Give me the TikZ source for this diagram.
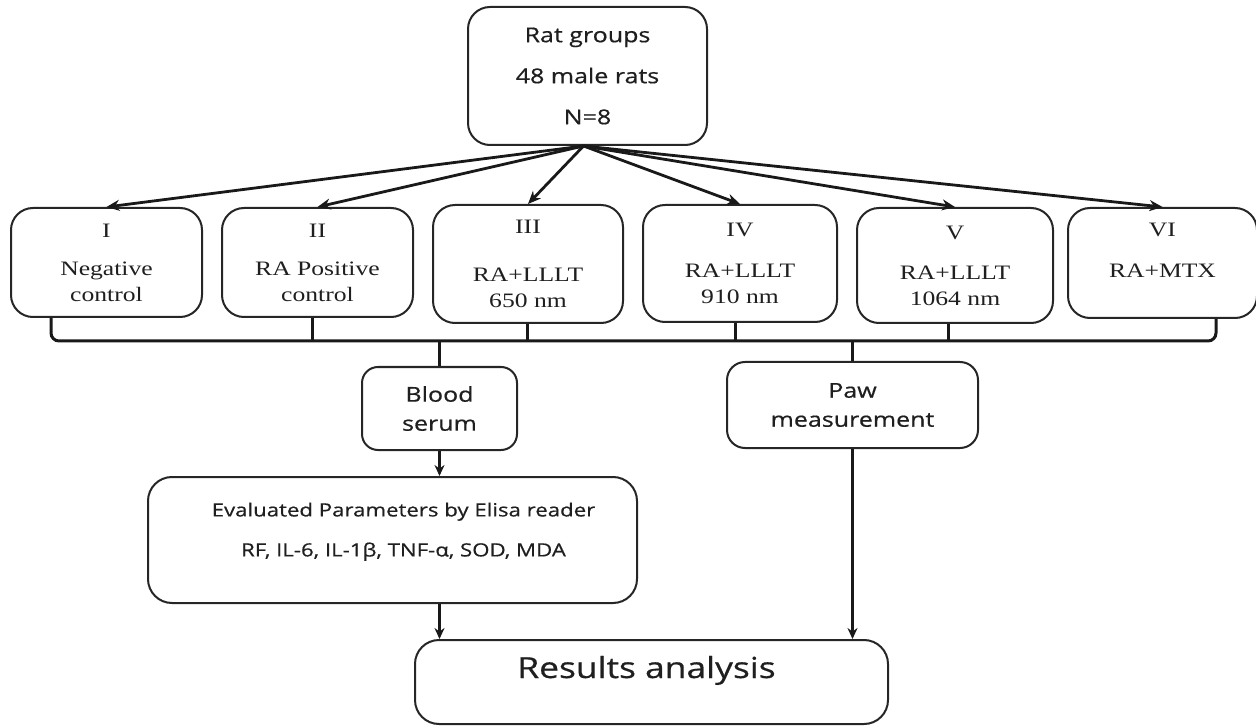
\documentclass[tikz,border=0pt]{standalone}
\usepackage{fontspec}
\setmainfont{Liberation Serif}[FakeStretch=1.25]
\newfontfamily\sansx{Open Sans}[FakeStretch=1.22,FakeBold=0.6]
\usetikzlibrary{arrows.meta,calc}
\begin{document}
\begin{tikzpicture}[x=1pt,y=-1pt,
  box/.style={draw=black!85, line width=2pt, rounded corners=22pt, align=center, inner sep=0pt, text=black!88},
  grp/.style={box, font=\fontsize{20.5}{26}\selectfont},
  sbox/.style={box, font=\sansx\fontsize{20.5}{29}\selectfont},
  arr/.style={line width=2.8pt, draw=black!90, -{Stealth[length=13pt,width=11pt]}},
  arrb/.style={line width=2.5pt, draw=black!90, -{Stealth[length=11pt,width=10pt]}},
  bar/.style={line width=3pt, draw=black!90},
]
\useasboundingbox (0,0) rectangle (1256,727);

\node[sbox, minimum width=239pt, minimum height=138pt] (top) at (587.5,76)
  {Rat groups\\[12pt]48 male rats\\[12pt]N=8};

\node[grp, minimum width=191pt, minimum height=109pt] (g1) at (106.5,262.5)
  {I\\[12pt]Negative\\control};
\node[grp, minimum width=191pt, minimum height=109pt] (g2) at (317.5,262.5)
  {II\\[12pt]RA Positive\\control};
\node[grp, minimum width=190pt, minimum height=118pt] (g3) at (528,264)
  {III\\[22pt]RA+LLLT\\650 nm};
\node[grp, minimum width=194pt, minimum height=117pt] (g4) at (740,263.5)
  {IV\\[15pt]RA+LLLT\\910 nm};
\node[grp, minimum width=196pt, minimum height=115pt] (g5) at (955,265.5)
  {V\\[14pt]RA+LLLT\\1064 nm};
\node[grp, minimum width=189pt, minimum height=110pt] (g6) at (1162.5,263)
  {VI\\[15pt]RA+MTX\\\mbox{}};

\node[sbox, minimum width=155pt, minimum height=83pt, rounded corners=16pt] (serum) at (439.5,408.5)
  {Blood\\serum};
\node[sbox, minimum width=251pt, minimum height=86pt, rounded corners=18pt] (paw) at (852.5,405)
  {Paw\\measurement};
\node[sbox, font=\sansx\fontsize{18.2}{29}\selectfont, minimum width=489pt, minimum height=126pt, rounded corners=24pt] (eval) at (392.5,540)
  {\hspace*{22pt}Evaluated Parameters by Elisa reader\\[11pt]\hspace*{22pt}RF, IL-6, IL-1β, TNF-α, SOD, MDA\\[-8pt]\mbox{}};
\node[box, font=\sansx\fontsize{29}{38}\selectfont, minimum width=473pt, minimum height=84pt,
  rounded corners=24pt, text height=22pt, text depth=30pt] (results) at (651.5,682)
  {Results analysis\hspace*{10pt}};

% arrows from the top box
\coordinate (src) at ($(top.south)+(-4,0)$);
\foreach \g in {g1,g2,g3,g4,g5,g6} \draw[arr] (src) -- (\g.north);

% bracket joining the groups
\coordinate (barL) at ($(g1.south west)+(41,23)$);
\coordinate (barR) at ($(g6.south east)+(-42,22)$);
\draw[bar, rounded corners=8pt] (barL |- g1.south) -- (barL) -- (barR) -- (barR |- g6.south);
\draw[bar] ($(g2.south)+(-5,0)$) -- ($(g2.south |- barL)+(-5,0)$);
\draw[bar] ($(g3.south)+(-1,0)$) -- ($(g3.south |- barL)+(-1,0)$);
\draw[bar] ($(g4.south)+(-5,0)$) -- ($(g4.south |- barL)+(-5,0)$);
\draw[bar] ($(g5.south)+(-7,0)$) -- ($(g5.south |- barL)+(-7,0)$);
\draw[bar] (serum.north |- barL) -- (serum.north);
\draw[bar] (paw.north |- barL) -- (paw.north);

% lower flow
\draw[arrb] (serum.south) -- (serum.south |- eval.north);
\draw[arrb] (eval.south -| serum.south) -- (results.north -| serum.south);
\draw[arrb] (paw.south) -- (paw.south |- results.north);
\end{tikzpicture}
\end{document}
